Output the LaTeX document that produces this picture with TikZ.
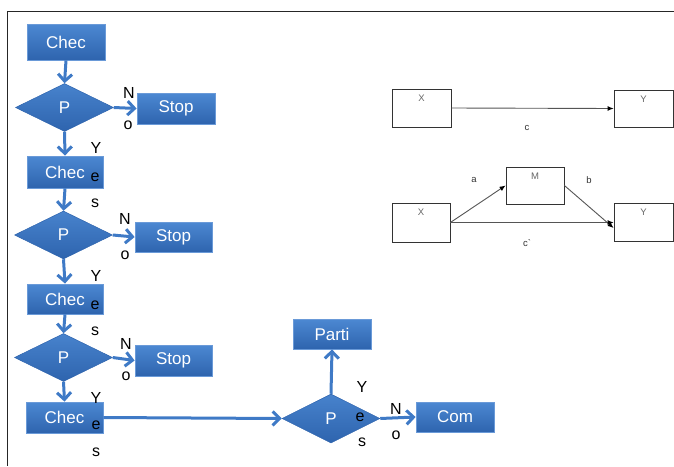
\documentclass[tikz,border=0pt]{standalone}
\usepackage{fontspec}
\setmainfont{Liberation Sans}
\usetikzlibrary{shapes.geometric,arrows.meta}
\definecolor{boxtop}{HTML}{4C88D2}
\definecolor{boxbot}{HTML}{2E64AE}
\definecolor{boxline}{HTML}{6A9AD8}
\definecolor{arrblue}{HTML}{3F7AC6}
\definecolor{mgray}{HTML}{555555}
\definecolor{mtxt}{HTML}{666666}
\tikzset{
  bluebox/.style={rectangle, inner sep=0pt, draw=boxline, line width=0.8pt,
    top color=boxtop, bottom color=boxbot, text=white,
    font=\fontsize{17}{17}\selectfont, minimum width=#1},
  bluebox/.default=78pt,
  decision/.style={diamond, inner sep=0pt, draw=boxbot, line width=0.5pt,
    top color=boxtop!85!boxbot, bottom color=boxbot, text=white,
    font=\fontsize{17}{17}\selectfont, minimum width=98pt, minimum height=48pt, aspect=2.04},
  lbl/.style={inner sep=0pt, text=black, font=\fontsize{16}{16}\selectfont},
  flow/.style={draw=arrblue, line width=3pt, -{Straight Barb[length=7pt,width=14pt]}},
  mbox/.style={rectangle, draw=black!80, line width=0.8pt, minimum width=59pt, minimum height=38pt, inner sep=0pt},
  mtop/.style={label={[anchor=north, inner sep=0pt, yshift=-6pt, text=mtxt, font=\fontsize{9.5}{9.5}\selectfont]north:#1}},
  marr/.style={draw=mgray, line width=0.9pt, -{Latex[length=6pt,width=5pt,black]}},
  mlbl/.style={inner sep=0pt, text=black!80, font=\fontsize{9.5}{9.5}\selectfont},
}
\begin{document}
\begin{tikzpicture}[x=1pt,y=-1pt]
\useasboundingbox (0,0) rectangle (674,466);
% frame
\draw[line width=0.9pt, black!85] (674,11) -- (7,11) -- (7,466);

% flowchart nodes
\node[bluebox, minimum height=36pt] (c1) at (66,42) {Chec};
\node[decision] (d1) at (64.5,107.5) {P};
\node[bluebox, minimum height=31pt] (s1) at (176,108.5) {Stop};
\node[bluebox=76pt, minimum height=32pt] (c2) at (65,172) {Chec};
\node[decision] (d2) at (63.5,235) {P};
\node[bluebox=77pt, minimum height=30pt] (s2) at (173.5,237) {Stop};
\node[bluebox=76pt, minimum height=30pt] (c3) at (65,299) {Chec};
\node[decision] (d3) at (63.5,357.5) {P};
\node[bluebox=77pt, minimum height=31pt] (s3) at (173.5,360.5) {Stop};
\node[bluebox=77pt, minimum height=31pt] (c4) at (64.5,417.5) {Chec};
\node[decision, minimum height=49pt] (d4) at (331,418.5) {P};
\node[bluebox, minimum height=30pt] (pa) at (332,334) {Parti};
\node[bluebox, minimum height=30pt] (co) at (455,417) {Com};

% flowchart connectors
\draw[flow] (c1.south) -- (d1.north);
\draw[flow] (d1.east) -- (s1.west);
\draw[flow] (d1.south) -- (c2.north);
\draw[flow] (c2.south) -- (d2.north);
\draw[flow] (d2.east) -- (s2.west);
\draw[flow] (d2.south) -- (c3.north);
\draw[flow] (c3.south) -- (d3.north);
\draw[flow] (d3.east) -- (s3.west);
\draw[flow] (d3.south) -- (c4.north);
\draw[flow] (c4.east) -- (d4.west);
\draw[flow] (d4.north) -- (pa.south);
\draw[flow] (d4.east) -- (co.west);

% labels
\node[lbl] (n1) at (129,93) {N};
\node[lbl] (o1) at (128,125) {o};
\node[lbl] (y1) at (96,148) {Y};
\node[lbl] (e1) at (95,177) {e};
\node[lbl] (ss1) at (95,203) {s};
\node[lbl] (n2) at (125,219) {N};
\node[lbl] (o2) at (125,255) {o};
\node[lbl] (y2) at (96,276) {Y};
\node[lbl] (e2) at (95,305) {e};
\node[lbl] (ss2) at (95,331) {s};
\node[lbl] (n3) at (126,344) {N};
\node[lbl] (o3) at (126,376) {o};
\node[lbl] (y3) at (96,398) {Y};
\node[lbl] (e3) at (96,425) {e};
\node[lbl] (ss3) at (96,452) {s};
\node[lbl] (y4) at (362,387) {Y};
\node[lbl] (e4) at (360,417) {e};
\node[lbl] (ss4) at (362,442) {s};
\node[lbl] (n4) at (396,409) {N};
\node[lbl] (o4) at (396,435) {o};

% mediation diagram
\node[mbox, mtop=X] (tx) at (421.5,108) {};
\node[mbox, mtop=Y, minimum height=37pt] (ty) at (643.5,108.5) {};
\draw[marr] (tx.east) -- (ty.west);
\node[mlbl] (lc) at (527,128) {c};

\node[mbox, mtop=X, minimum width=58pt, minimum height=39pt] (bx) at (421,222.5) {};
\node[mbox, mtop=M, minimum width=58pt, minimum height=37pt] (mm) at (535,185.5) {};
\node[mbox, mtop=Y] (by) at (643.5,222.5) {};
\draw[marr] (bx.east) -- (mm.west);
\draw[marr] (mm.east) -- ([yshift=-5.5pt]by.west);
\draw[marr] (bx.east) -- (by.west);
\node[mlbl] (la) at (474,180) {a};
\node[mlbl] (lb) at (589,180) {b};
\node[mlbl] (lc2) at (527,243) {c\textasciigrave};
\end{tikzpicture}
\end{document}
